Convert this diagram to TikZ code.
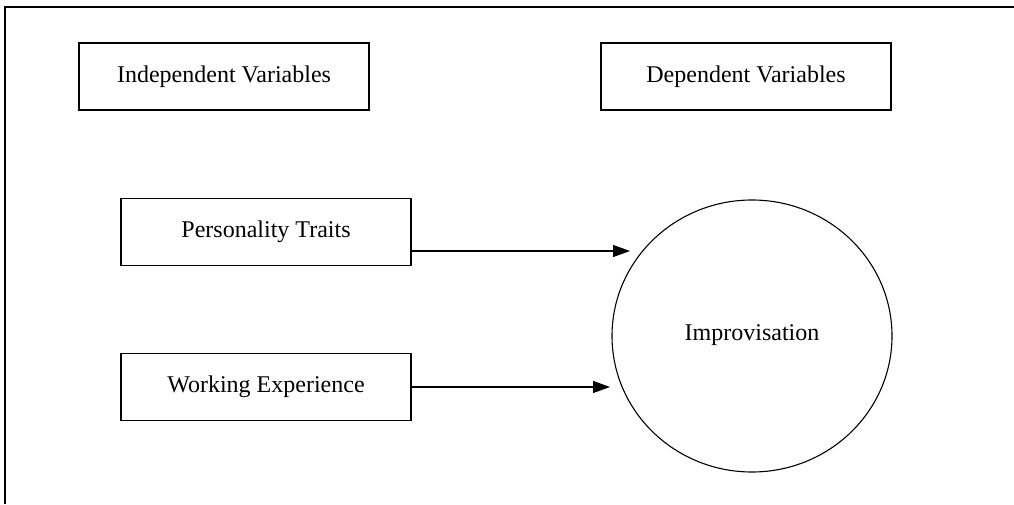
\documentclass[tikz,border=0pt]{standalone}
\usepackage{fontspec}
\setmainfont{Liberation Serif}
\usepackage{tikz}
\usetikzlibrary{arrows.meta}
\usetikzlibrary{shapes.geometric}

\tikzset{
  varbox/.style={draw, line width=1.5pt, minimum width=290pt, minimum height=67pt, inner sep=0pt},
  bigcircle/.style={draw, ellipse, line width=1.1pt, minimum width=280pt, minimum height=272pt, inner sep=0pt},
}

\begin{document}
\begin{tikzpicture}[->, >={Triangle[length=17pt,width=12pt]}, x=1pt, y=1pt, font=\fontsize{24}{28}\selectfont]

    \useasboundingbox (0,0) rectangle (1014,504);
    \draw[-, line width=1.3pt] (5,0) -- (5,497) -- (1014,497);

    \node[varbox] (indep) at (224, 427.5) {Independent Variables};
    \node[varbox] (dep) at (746, 427.5) {Dependent Variables};
    \node[varbox] (traits) at (266, 272) {Personality Traits};
    \node[varbox] (work) at (266, 117) {Working Experience};
    \node[bigcircle] (impro) at (752, 168) {\raisebox{6pt}{Improvisation}};

    \coordinate (tip1) at (630, 253);
    \coordinate (tip2) at (610, 117);

    \draw[line width=1.1pt] (traits.east |- tip1) -- (tip1);
    \draw[line width=1.1pt] (work.east) -- (tip2);

\end{tikzpicture}
\end{document}
